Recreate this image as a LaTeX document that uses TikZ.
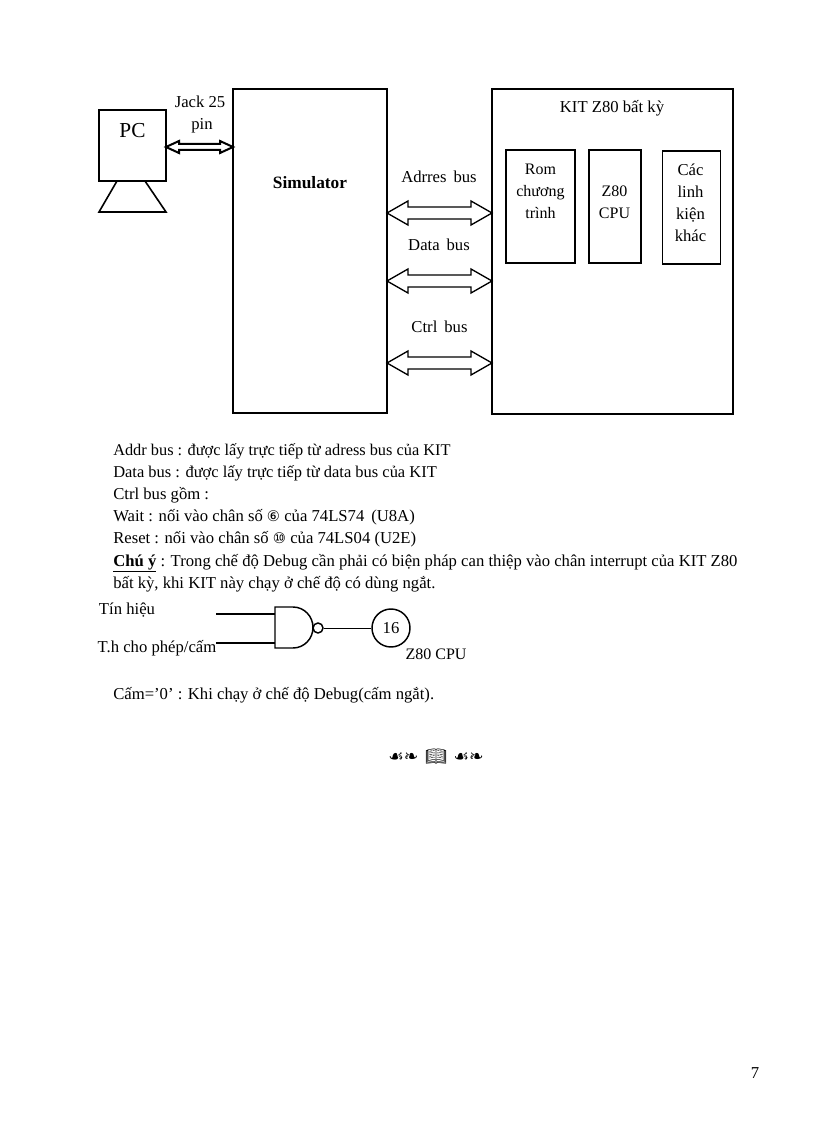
\documentclass[tikz,border=0pt]{standalone}
\usepackage{fontspec}
\setmainfont{Liberation Serif}
\newfontfamily\symfont{DejaVu Sans}
\newfontfamily\bookfont{Noto Emoji}
\usetikzlibrary{calc}
\begin{document}
\begin{tikzpicture}[
    x=0.75pt, y=-0.75pt,
    box/.style={draw, line width=1.2pt, inner sep=0pt, outer sep=0pt, minimum width=#1},
    boxh/.style={minimum height=#1},
    txt/.style={inner sep=0pt, align=center, font=\fontsize{12.5}{16.5}\selectfont},
    line/.style={inner sep=0pt, anchor=base west, font=\fontsize{#1}{14}\selectfont},
    line/.default=12.5,
    bus/.style={line width=1pt, line join=miter, to path={
        (\tikztostart) -- ($(\tikztostart)+(21,-12)$) -- ($(\tikztostart)+(21,-6)$)
        -- ($(\tikztotarget)+(-21,-6)$) -- ($(\tikztotarget)+(-21,-12)$) -- (\tikztotarget)
        -- ($(\tikztotarget)+(-21,12)$) -- ($(\tikztotarget)+(-21,6)$)
        -- ($(\tikztostart)+(21,6)$) -- ($(\tikztostart)+(21,12)$) -- cycle}},
    jack/.style={line width=1.5pt, to path={
        (\tikztostart) -- ($(\tikztostart)+(13,-6)$) -- ($(\tikztostart)+(13,-3)$)
        -- ($(\tikztotarget)+(-13,-3)$) -- ($(\tikztotarget)+(-13,-6)$) -- (\tikztotarget)
        -- ($(\tikztotarget)+(-13,6)$) -- ($(\tikztotarget)+(-13,3)$)
        -- ($(\tikztostart)+(13,3)$) -- ($(\tikztostart)+(13,6)$) -- cycle}},
    wire/.style={line width=1.1pt}
]
\useasboundingbox[fill=white] (0,0) rectangle (816,1123);

% blocks
\node[box=50.25pt, boxh=53.25pt] (pc) at (132.5,145.5) {};
\node[box=115.5pt, boxh=243pt] (sim) at (310,251) {};
\node[box=180.75pt, boxh=243.75pt] (kit) at (612.5,251.5) {};
\node[box=51.75pt, boxh=84.75pt] (rom) at (540.5,206.5) {};
\node[box=39pt, boxh=84.75pt] (cpu) at (615,206.5) {};
\node[box=43.5pt, boxh=84.75pt] (other) at (691.5,207.5) {};

% stand of the PC
\draw[line width=1.2pt] (117,181) -- (99,212) -- (166,212) -- (145,181);

% block texts
\node[txt, font=\fontsize{16}{18}\selectfont] (pcname) at (132.5,131) {PC};
\node[txt, font=\bfseries\fontsize{13}{16}\selectfont] (simname) at (310,183) {Simulator};
\node[txt] (kitname) at (612,108) {KIT Z80 bất kỳ};
\node[txt, anchor=north, font=\fontsize{12}{16.5}\selectfont] (romname) at (540.5,164) {Rom\\chương\\trình};
\node[txt, anchor=north, font=\fontsize{12}{16.5}\selectfont] (cpuname) at (614.5,186) {Z80\\CPU};
\node[txt, anchor=north] (othername) at (690.5,164) {Các\\linh\\kiện\\khác};

% buses
\coordinate (addry) at (0,213);
\coordinate (datay) at (0,281);
\coordinate (ctrly) at (0,363);
\coordinate (jacky) at (0,147);
\draw[jack] (pc.east |- jacky) to (sim.west |- jacky);
\draw[bus] (sim.east |- addry) to (kit.west |- addry);
\draw[bus] (sim.east |- datay) to (kit.west |- datay);
\draw[bus] (sim.east |- ctrly) to (kit.west |- ctrly);
\node[txt, anchor=north] (jackname) at (200,96) {Jack 25\\\hspace{3pt}pin};
\node[txt] (addrname) at (439,177) {Adrres\, bus};
\node[txt] (dataname) at (439,245) {Data\, bus};
\node[txt] (ctrlname) at (439.5,327) {Ctrl\, bus};

% notes
\node[line=12.25] (n1) at (113,455) {Addr bus : được lấy trực tiếp từ adress bus của KIT};
\node[line=12.35] (n2) at (113,477) {Data bus : được lấy trực tiếp từ data bus của KIT};
\node[line] (n3) at (113,499) {Ctrl bus gồm :};
\node[line] (n4) at (113,521) {Wait : nối vào chân số {\symfont\fontsize{11}{11}\selectfont ⑥} của 74LS74\, (U8A)};
\node[line] (n5) at (113,543) {Reset : nối vào chân số {\symfont\fontsize{11}{11}\selectfont ⑩} của 74LS04 (U2E)};
\node[line] (n6) at (113,566) {\underline{\textbf{Chú ý}} : Trong chế độ Debug cần phải có biện pháp can thiệp vào chân interrupt của KIT Z80};
\node[line] (n7) at (113,588) {bất kỳ, khi KIT này chạy ở chế độ có dùng ngắt.};

% gate
\coordinate (in1) at (216,614);
\coordinate (in2) at (216,643);
\coordinate (gate1) at (275,614);
\coordinate (gate2) at (275,643);
\draw[wire] (in1) -- (gate1);
\draw[wire] (in2) -- (gate2);
\draw[line width=1.1pt] (275,607) -- (293,607) arc[start angle=-90, end angle=90, x radius=20, y radius=20.5] -- (275,648) -- cycle;
\node[circle, draw, line width=1.1pt, inner sep=0pt, minimum size=7.5pt] (bubble) at (318,628) {};
\node[circle, draw, line width=1.1pt, inner sep=0pt, minimum size=28.5pt, font=\fontsize{12.5}{14}\selectfont] (pin) at (391,628) {16};
\draw[line width=0.7pt] (bubble) -- (pin);
\node[txt] (sig) at (127,610) {Tín hiệu};
\node[txt] (en) at (157,648) {T.h cho phép/cấm};
\node[txt, font=\fontsize{12}{16.5}\selectfont] (z80) at (436,654) {Z80 CPU};
\node[line] (n8) at (113,699) {Cấm=’0’ : Khi chạy ở chế độ Debug(cấm ngắt).};

% ornament and page number
\node[txt] (orn) at (436,757) {{\symfont\fontsize{13}{10}\selectfont ☙❧}\hspace{5pt}{\bookfont\fontsize{13}{10}\selectfont 📖}\hspace{5pt}{\symfont\fontsize{13}{10}\selectfont ☙❧}};
\node[txt] (page) at (755,1073) {7};
\end{tikzpicture}
\end{document}
